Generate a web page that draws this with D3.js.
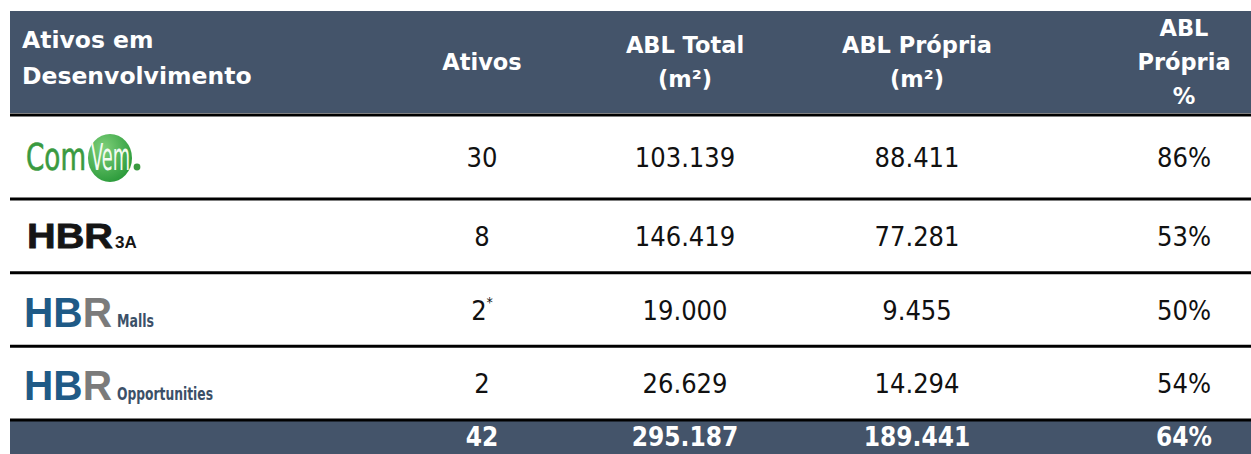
<!DOCTYPE html>
<html lang="pt">
<head>
<meta charset="utf-8">
<title>Ativos em Desenvolvimento</title>
<script src="https://d3js.org/d3.v7.min.js"></script>
<style>
body { margin: 0; background: #fff; }
svg { display: block; }
</style>
</head>
<body>
<div id="tabela"></div>
<script>
var assets = ["ComVem", "HBR 3A", "HBR Malls", "HBR Opportunities"];
var ativos = [30, 8, 2, 2];
var footnote = [false, false, true, false];   // "2*"
var ablTotal = [103139, 146419, 19000, 26629];
var ablPropria = [88411, 77281, 9455, 14294];
var ablPropriaPct = [86, 53, 50, 54];
var totals = [42, 295187, 189441, 64];

var firstHeader = ["Ativos em", "Desenvolvimento"];
var columns = ["ativos", "total", "propria", "pct"];
var headers = [["Ativos"], ["ABL Total", "(m²)"], ["ABL Própria", "(m²)"], ["ABL", "Própria", "%"]];

var width = 1251, height = 454;
var headBg = "#44546a";
var bodyFont = "'DejaVu Sans Condensed', 'DejaVu Sans', sans-serif";
var headFont = "'DejaVu Sans', sans-serif";

// pt-BR number format: 103.139
var br = d3.formatLocale({decimal: ",", thousands: ".", grouping: [3], currency: ["R$", ""]});
var fmt = br.format(",d");

var svg = d3.select("#tabela").append("svg")
    .attr("width", width)
    .attr("height", height);

// column centres
var x = d3.scaleOrdinal()
    .domain(columns)
    .range([482, 685, 917, 1184]);

// row boundaries (first row a bit taller)
var y = d3.scaleLinear()
    .domain([0, 1, assets.length])
    .range([115, 199, 420]);

// header band
svg.append("rect")
    .attr("x", 10).attr("y", 11)
    .attr("width", width - 10).attr("height", 102)
    .attr("fill", headBg);

svg.append("text")
    .attr("x", 22)
    .attr("font-family", headFont)
    .attr("font-weight", "bold")
    .attr("font-size", 23.5)
    .attr("fill", "#fff")
    .selectAll("tspan")
    .data(firstHeader)
    .join("tspan")
      .attr("x", 22)
      .attr("y", function(d, i) { return 48 + i * 36; })
      .text(function(d) { return d; });

var headG = svg.append("g")
    .attr("font-family", headFont)
    .attr("font-weight", "bold")
    .attr("font-size", 22.5)
    .attr("fill", "#fff")
    .attr("text-anchor", "middle");

headG.selectAll("text")
  .data(headers)
  .join("text")
    .each(function(lines, j) {
      var step = 34;
      var first = 70 - (lines.length - 1) * step / 2;
      d3.select(this).selectAll("tspan")
        .data(lines)
        .join("tspan")
          .attr("x", x(columns[j]))
          .attr("y", function(d, i) { return first + i * step; })
          .text(function(d) { return d; });
    });

// footer band
svg.append("rect")
    .attr("x", 10).attr("y", y(assets.length) + 1)
    .attr("width", width - 10).attr("height", height - y(assets.length))
    .attr("fill", headBg);

// rule lines
var rules = d3.range(assets.length + 1);
svg.selectAll("line.rule")
  .data(rules)
  .join("line")
    .attr("class", "rule")
    .attr("x1", 10).attr("x2", width)
    .attr("y1", function(d) { return y(d); })
    .attr("y2", function(d) { return y(d); })
    .attr("stroke", "#000")
    .attr("stroke-width", 3);

// body rows
var rows = assets.map(function(a, i) {
  return {asset: a, i: i, values: [ativos[i], ablTotal[i], ablPropria[i], ablPropriaPct[i]]};
});

function rowMid(i) { return (y(i) + y(i + 1)) / 2; }

// logo gradient
var defs = svg.append("defs");
var grad = defs.append("radialGradient")
    .attr("id", "cvGrad")
    .attr("cx", "35%").attr("cy", "30%").attr("r", "75%");
grad.append("stop").attr("offset", "0%").attr("stop-color", "#7fd07a");
grad.append("stop").attr("offset", "100%").attr("stop-color", "#2a9a3a");

var rowG = svg.selectAll("g.row")
  .data(rows)
  .join("g")
    .attr("class", "row");

rowG.each(function(r) {
  var g = d3.select(this);
  var cy = rowMid(r.i);
  g.selectAll("text.val")
    .data(r.values)
    .join("text")
      .attr("class", "val")
      .attr("x", function(d, j) { return x(columns[j]); })
      .attr("y", cy + 10)
      .attr("text-anchor", "middle")
      .attr("font-family", bodyFont)
      .attr("font-size", 27)
      .attr("fill", "#111")
      .each(function(d, j) {
        var t = d3.select(this);
        if (j === 3) t.text(d + "%");
        else if (j === 0) {
          t.text(d);
          if (footnote[r.i]) {
            t.append("tspan").attr("dy", -13).attr("font-size", 14).text("*");
          }
        }
        else t.text(fmt(d));
      });
  drawLogo(g, r.asset, cy);
});

// totals row
svg.append("g")
    .attr("font-family", bodyFont)
    .attr("font-weight", "bold")
    .attr("font-size", 26)
    .attr("fill", "#fff")
    .attr("text-anchor", "middle")
  .selectAll("text")
  .data(totals)
  .join("text")
    .attr("x", function(d, j) { return x(columns[j]); })
    .attr("y", 446)
    .text(function(d, j) { return j === 3 ? d + "%" : fmt(d); });

function drawLogo(g, name, cy) {
  if (name === "ComVem") {
    g.append("ellipse")
        .attr("cx", 110).attr("cy", cy + 1)
        .attr("rx", 22).attr("ry", 24)
        .attr("fill", "url(#cvGrad)");
    g.append("text")
        .attr("x", 26).attr("y", cy + 13)
        .attr("font-family", bodyFont)
        .attr("font-size", 37)
        .attr("textLength", 60).attr("lengthAdjust", "spacingAndGlyphs")
        .attr("fill", "#3a9a40")
        .attr("stroke", "#3a9a40").attr("stroke-width", 0.6)
        .text("Com");
    g.append("text")
        .attr("x", 91).attr("y", cy + 13)
        .attr("font-family", bodyFont)
        .attr("font-size", 37)
        .attr("textLength", 39).attr("lengthAdjust", "spacingAndGlyphs")
        .attr("fill", "#f4fbf2")
        .text("Vem");
    g.append("circle")
        .attr("cx", 137).attr("cy", cy + 10)
        .attr("r", 3.4)
        .attr("fill", "#3a9a40");
  } else if (name === "HBR 3A") {
    g.append("text")
        .attr("x", 27).attr("y", cy + 12.5)
        .attr("font-family", "'Liberation Sans', Arial, sans-serif")
        .attr("font-weight", "bold")
        .attr("font-size", 35)
        .attr("textLength", 86).attr("lengthAdjust", "spacingAndGlyphs")
        .attr("fill", "#151515")
        .attr("stroke", "#151515").attr("stroke-width", 0.8)
        .text("HBR");
    g.append("text")
        .attr("x", 115).attr("y", cy + 12.5)
        .attr("font-family", "'Liberation Sans', Arial, sans-serif")
        .attr("font-weight", "bold")
        .attr("font-size", 17)
        .attr("fill", "#151515")
        .text("3A");
  } else {
    var sub = name === "HBR Malls" ? "Malls" : "Opportunities";
    var base = cy + 17;
    var t = g.append("text")
        .attr("x", 24).attr("y", base)
        .attr("font-family", "'Liberation Sans', Arial, sans-serif")
        .attr("font-weight", "bold")
        .attr("font-size", 42)
        .attr("textLength", 88).attr("lengthAdjust", "spacingAndGlyphs");
    t.append("tspan").attr("fill", "#1f5a86").text("HB");
    t.append("tspan").attr("fill", "#7b7b7b").text("R");
    g.append("text")
        .attr("x", 117).attr("y", base)
        .attr("font-family", bodyFont)
        .attr("font-weight", "bold")
        .attr("font-size", 17)
        .attr("textLength", sub === "Malls" ? 37 : 96)
        .attr("lengthAdjust", "spacingAndGlyphs")
        .attr("fill", "#3b5068")
        .text(sub);
  }
}
</script>
</body>
</html>
